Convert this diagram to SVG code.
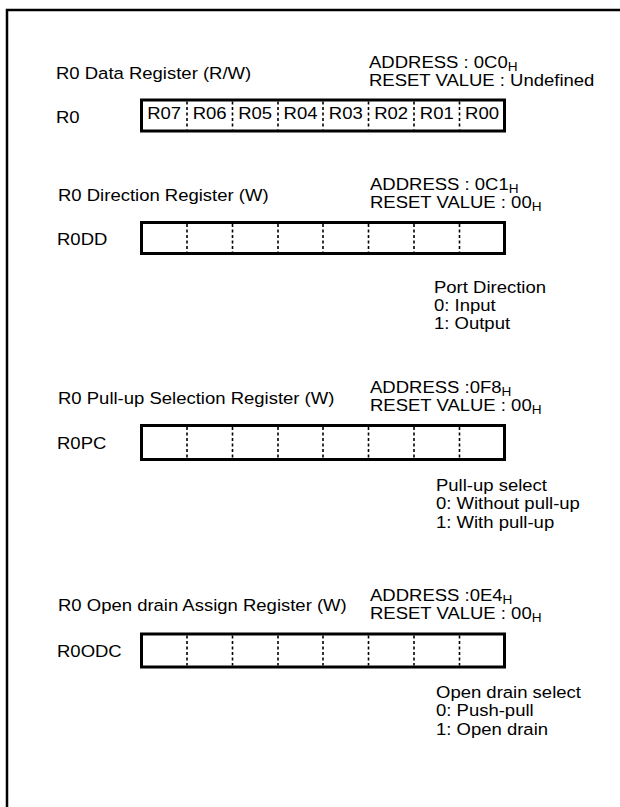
<svg xmlns="http://www.w3.org/2000/svg" width="620" height="807" viewBox="0 0 620 807">
<style>
text{font-family:"Liberation Sans",Arial,sans-serif;font-size:16.3px;fill:#000}
.sub{font-size:12px}
.box{fill:#fff;stroke:#000;stroke-width:3}
.div{stroke:#000;stroke-width:1.6;stroke-dasharray:3,2.5;fill:none}
.frame{stroke:#000;stroke-width:2.5;fill:none}
</style>
<rect width="620" height="807" fill="#fff"/>
<g id="frame">
<path class="frame" d="M7 807 V10 H620"/>
</g>
<g id="r0">
<text transform="translate(56 78.5) scale(1.135 1)">R0 Data Register (R/W)</text>
<text transform="translate(369 68) scale(1.135 1)">ADDRESS : 0C0<tspan class="sub" dy="3">H</tspan></text>
<text transform="translate(369 86) scale(1.135 1)">RESET VALUE : Undefined</text>
<text transform="translate(56 123) scale(1.135 1)">R0</text>
<rect class="box" x="141.5" y="100" width="363" height="31"/>
<path class="div" d="M187 101.5V129.5M232.5 101.5V129.5M278 101.5V129.5M323 101.5V129.5M368.5 101.5V129.5M414 101.5V129.5M459.5 101.5V129.5"/>
<g text-anchor="middle">
<text transform="translate(164.2 119) scale(1.135 1)">R07</text>
<text transform="translate(209.7 119) scale(1.135 1)">R06</text>
<text transform="translate(255.2 119) scale(1.135 1)">R05</text>
<text transform="translate(300.5 119) scale(1.135 1)">R04</text>
<text transform="translate(345.8 119) scale(1.135 1)">R03</text>
<text transform="translate(391.2 119) scale(1.135 1)">R02</text>
<text transform="translate(436.8 119) scale(1.135 1)">R01</text>
<text transform="translate(482 119) scale(1.135 1)">R00</text>
</g>
</g>
<g id="r0dd">
<text transform="translate(58 200.5) scale(1.135 1)">R0 Direction Register (W)</text>
<text transform="translate(370 190) scale(1.135 1)">ADDRESS : 0C1<tspan class="sub" dy="3">H</tspan></text>
<text transform="translate(370 207.5) scale(1.135 1)">RESET VALUE : 00<tspan class="sub" dy="3">H</tspan></text>
<text transform="translate(57 245) scale(1.135 1)">R0DD</text>
<rect class="box" x="141.5" y="222.5" width="363" height="31"/>
<path class="div" d="M187 224V252M232.5 224V252M278 224V252M323 224V252M368.5 224V252M414 224V252M459.5 224V252"/>
<text transform="translate(434 293) scale(1.135 1)">Port Direction</text>
<text transform="translate(434 311) scale(1.135 1)">0: Input</text>
<text transform="translate(434 329) scale(1.135 1)">1: Output</text>
</g>
<g id="r0pc">
<text transform="translate(58 403.5) scale(1.135 1)">R0 Pull-up Selection Register (W)</text>
<text transform="translate(370 393) scale(1.135 1)">ADDRESS :0F8<tspan class="sub" dy="3">H</tspan></text>
<text transform="translate(370 410.5) scale(1.135 1)">RESET VALUE : 00<tspan class="sub" dy="3">H</tspan></text>
<text transform="translate(57 449) scale(1.135 1)">R0PC</text>
<rect class="box" x="141.5" y="425.5" width="363" height="34"/>
<path class="div" d="M187 427V458M232.5 427V458M278 427V458M323 427V458M368.5 427V458M414 427V458M459.5 427V458"/>
<text transform="translate(436 491) scale(1.135 1)">Pull-up select</text>
<text transform="translate(436 509) scale(1.135 1)">0: Without pull-up</text>
<text transform="translate(436 527.5) scale(1.135 1)">1: With pull-up</text>
</g>
<g id="r0odc">
<text transform="translate(58 611) scale(1.135 1)">R0 Open drain Assign Register (W)</text>
<text transform="translate(370 600.5) scale(1.135 1)">ADDRESS :0E4<tspan class="sub" dy="3">H</tspan></text>
<text transform="translate(370 618.5) scale(1.135 1)">RESET VALUE : 00<tspan class="sub" dy="3">H</tspan></text>
<text transform="translate(57 657) scale(1.135 1)">R0ODC</text>
<rect class="box" x="141.5" y="634" width="363" height="33"/>
<path class="div" d="M187 635.5V665.5M232.5 635.5V665.5M278 635.5V665.5M323 635.5V665.5M368.5 635.5V665.5M414 635.5V665.5M459.5 635.5V665.5"/>
<text transform="translate(436 697.5) scale(1.135 1)">Open drain select</text>
<text transform="translate(436 716) scale(1.135 1)">0: Push-pull</text>
<text transform="translate(436 734.5) scale(1.135 1)">1: Open drain</text>
</g>
<g id="connectors"></g>
</svg>
